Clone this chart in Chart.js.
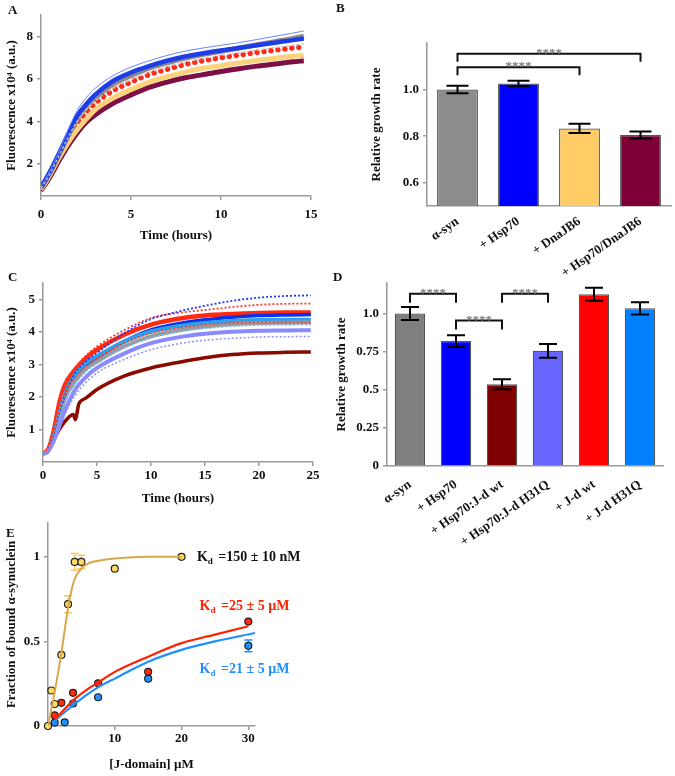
<!DOCTYPE html>
<html>
<head>
<meta charset="utf-8">
<title>alpha-synuclein aggregation with chaperones</title>
<script src="https://cdn.jsdelivr.net/npm/chart.js@4.4.1/dist/chart.umd.min.js"></script>
<style>
  body { margin: 0; background: #fff; }
  #fig { position: relative; width: 675px; height: 776px; overflow: hidden; }
  #fig canvas { position: absolute; }
  .tag { position: absolute; font: bold 13px 'Liberation Serif', serif; color: #111; }
</style>
</head>
<body>
<div id="fig">
  <canvas id="chartB" width="345" height="290" style="left:330px; top:0"></canvas>
  <canvas id="chartA" width="330" height="247" style="left:0; top:0"></canvas>
  <canvas id="chartD" width="345" height="300" style="left:330px; top:270px"></canvas>
  <canvas id="chartC" width="330" height="240" style="left:0; top:270px"></canvas>
  <canvas id="chartE" width="330" height="266" style="left:0; top:510px"></canvas>
  <div class="tag" style="left:8px; top:2px">A</div>
  <div class="tag" style="left:336px; top:0">B</div>
  <div class="tag" style="left:8px; top:269px">C</div>
  <div class="tag" style="left:333px; top:269px">D</div>
  <div class="tag" style="left:6px; top:525px">E</div>
</div>
<script>
/*********************************/
// data      //
/*********************************/

// A - fluorescence x10^4 vs time (hours)
const timeA     = [0, 0.5, 1, 1.5, 2, 2.5, 3, 4, 5, 6, 7, 8, 9, 10, 11, 12, 13, 14, 14.6];
const synA      = [0.85, 1.6, 2.45, 3.3, 4.1, 4.65, 5.1, 5.75, 6.15, 6.5, 6.75, 6.98, 7.15, 7.3, 7.45, 7.6, 7.75, 7.9, 8.0];
const synRepA   = [0.85, 1.55, 2.4, 3.25, 4.0, 4.55, 4.95, 5.55, 5.95, 6.3, 6.55, 6.78, 6.95, 7.1, 7.23, 7.35, 7.47, 7.58, 7.65];
const hsp70A    = [0.9, 1.65, 2.5, 3.4, 4.25, 4.8, 5.25, 5.9, 6.3, 6.6, 6.85, 7.05, 7.2, 7.33, 7.45, 7.58, 7.7, 7.82, 7.9];
const hsp70RepA = [0.95, 1.7, 2.6, 3.6, 4.5, 5.1, 5.55, 6.15, 6.55, 6.85, 7.1, 7.3, 7.45, 7.58, 7.7, 7.85, 8.0, 8.15, 8.25];
const dotsA     = [0.85, 1.55, 2.4, 3.2, 3.9, 4.4, 4.85, 5.45, 5.85, 6.2, 6.45, 6.68, 6.85, 7.0, 7.12, 7.24, 7.35, 7.45, 7.5];
const dnajb6A   = [0.8, 1.5, 2.3, 3.0, 3.6, 4.1, 4.55, 5.1, 5.5, 5.85, 6.1, 6.32, 6.5, 6.62, 6.75, 6.87, 6.97, 7.06, 7.1];
const hspDnajA  = [0.75, 1.4, 2.15, 2.85, 3.45, 3.95, 4.3, 4.85, 5.25, 5.6, 5.85, 6.05, 6.2, 6.35, 6.48, 6.6, 6.7, 6.8, 6.85];

// B - relative growth rate
const groupsB = ['α-syn', '+ Hsp70', '+ DnaJB6', '+ Hsp70/DnaJB6'];
const rateB   = [1.0, 1.026, 0.833, 0.805];
const errB    = [0.016, 0.012, 0.02, 0.015];
const sigB    = [[0, 2, 1.096], [0, 3, 1.154]];

// C - fluorescence x10^4 vs time (hours)
const timeC       = [0, 0.5, 1, 1.5, 2, 3, 4, 5, 7.5, 10, 12.5, 15, 17.5, 20, 22.5, 24.8];
const redC        = [0.25, 0.4, 0.95, 1.8, 2.35, 2.85, 3.2, 3.45, 3.91, 4.22, 4.4, 4.5, 4.55, 4.58, 4.59, 4.59];
const redRepTopC  = [0.25, 0.4, 0.95, 1.8, 2.38, 2.9, 3.28, 3.55, 4.05, 4.42, 4.58, 4.67, 4.76, 4.83, 4.86, 4.87];
const redRepLowC  = [0.25, 0.4, 0.9, 1.65, 2.1, 2.6, 2.95, 3.18, 3.65, 3.96, 4.12, 4.22, 4.27, 4.29, 4.29, 4.29];
const blueRepTopC = [0.25, 0.35, 0.75, 1.4, 2.0, 2.75, 3.1, 3.35, 3.95, 4.39, 4.62, 4.8, 4.95, 5.05, 5.1, 5.12];
const blueC       = [0.25, 0.35, 0.75, 1.4, 1.97, 2.55, 2.95, 3.2, 3.7, 4.06, 4.25, 4.37, 4.45, 4.5, 4.52, 4.53];
const cyanC       = [0.25, 0.35, 0.8, 1.5, 2.07, 2.7, 3.05, 3.25, 3.7, 4.01, 4.17, 4.27, 4.33, 4.36, 4.37, 4.37];
const cyanRepC    = [0.25, 0.35, 0.7, 1.3, 1.85, 2.4, 2.78, 3.02, 3.5, 3.82, 4.0, 4.1, 4.17, 4.2, 4.21, 4.22];
const grayC       = [0.25, 0.35, 0.7, 1.35, 1.92, 2.5, 2.87, 3.09, 3.55, 3.86, 4.04, 4.16, 4.23, 4.27, 4.28, 4.29];
const lilacC      = [0.25, 0.35, 0.65, 1.1, 1.56, 2.23, 2.62, 2.89, 3.33, 3.65, 3.83, 3.94, 4.0, 4.03, 4.04, 4.05];
const lilacRepC   = [0.25, 0.35, 0.6, 1.0, 1.45, 2.05, 2.45, 2.74, 3.15, 3.45, 3.63, 3.74, 3.8, 3.84, 3.85, 3.86];
const timeDarkC   = [0, 0.5, 1, 1.5, 2, 2.5, 2.8, 3.0, 3.1, 3.3, 3.5, 4, 5, 7.5, 10, 12.5, 15, 17.5, 20, 22.5, 24.8];
const darkRedC    = [0.24, 0.39, 0.7, 1.0, 1.23, 1.41, 1.46, 1.3, 1.42, 1.77, 1.87, 1.97, 2.23, 2.64, 2.89, 3.06, 3.2, 3.3, 3.35, 3.37, 3.38];

// D - relative growth rate
const groupsD = ['α-syn', '+ Hsp70', '+ Hsp70:J-d wt', '+ Hsp70:J-d H31Q', '+ J-d wt', '+ J-d H31Q'];
const rateD   = [1.0, 0.82, 0.536, 0.755, 1.126, 1.034];
const errD    = [0.042, 0.038, 0.033, 0.045, 0.043, 0.04];
const sigD    = [[0, 1, 1.129], [1, 2, 0.954], [2, 3, 1.129]];

// E - fraction of bound alpha-synuclein vs [J-domain] uM
const concA   = [0, 0.5, 1, 2, 3, 4, 5, 10, 20];
const boundA  = [0, 0.21, 0.13, 0.42, 0.72, 0.97, 0.97, 0.93, 1.0];
const errA    = [0, 0, 0, 0, 0.05, 0.05, 0.04, 0, 0];
const concWt  = [1, 2, 3.75, 7.5, 15, 30];
const boundWt = [0.063, 0.137, 0.196, 0.252, 0.32, 0.617];
const concMut = [1, 2.5, 3.75, 7.5, 15, 30];
const boundMut = [0.02, 0.022, 0.133, 0.17, 0.28, 0.474];
const errMut  = [0, 0, 0, 0, 0, 0.035];
// fitted curves, traced
const fitAX   = [0, 1, 2, 3, 3.5, 4, 5, 6, 8, 10, 15, 20];
const fitAY   = [0, 0.2, 0.43, 0.7, 0.8, 0.87, 0.93, 0.96, 0.98, 0.99, 1.0, 1.0];
const fitWtX  = [1, 2, 4, 6, 8, 10, 15, 20, 25, 30];
const fitWtY  = [0.04, 0.08, 0.16, 0.22, 0.27, 0.32, 0.41, 0.49, 0.54, 0.59];
const fitMutX = [1, 2, 4, 6, 8, 10, 15, 20, 25, 31];
const fitMutY = [0.03, 0.065, 0.13, 0.19, 0.24, 0.28, 0.38, 0.45, 0.5, 0.55];

/*********************************/
// helpers + plugins             //
/*********************************/

const serif = "'Liberation Serif', 'Times New Roman', serif";
Chart.defaults.font.family = serif;
Chart.defaults.font.size = 13;
Chart.defaults.font.weight = 'bold';
Chart.defaults.color = '#111';
Chart.defaults.animation = false;
Chart.defaults.responsive = false;
Chart.defaults.plugins.legend.display = false;
Chart.defaults.plugins.tooltip.enabled = false;

function pts(xs, ys) {
  return xs.map(function (x, i) { return { x: x, y: ys[i] }; });
}

function line(xs, ys, color, width) {
  return {
    data: pts(xs, ys),
    borderColor: color,
    borderWidth: width,
    pointRadius: 0,
    showLine: true,
    fill: false,
    cubicInterpolationMode: 'monotone'
  };
}

function dotted(ds, dash) {
  ds.borderDash = dash;
  return ds;
}

function linAxis(min, max, ticks, fit, title, pad) {
  return {
    type: 'linear',
    min: min,
    max: max,
    afterBuildTicks: function (s) { s.ticks = ticks.map(function (v) { return { value: v }; }); },
    afterFit: fit,
    border: { color: '#9a9a9a', width: 1.5 },
    grid: { drawOnChartArea: false, tickLength: 4, color: '#9a9a9a', lineWidth: 1.5 },
    ticks: { padding: pad, color: '#111' },
    title: { display: true, text: title, padding: 4, color: '#111' }
  };
}

function catAxis(height, pad) {
  return {
    type: 'category',
    afterFit: function (s) { s.height = height; },
    border: { color: '#9a9a9a', width: 1.5 },
    grid: { drawOnChartArea: false, drawTicks: false },
    ticks: { minRotation: 35, maxRotation: 35, padding: pad, autoSkip: false, color: '#111' }
  };
}

function drawErrors(chart, behind) {
  const ctx = chart.ctx;
  chart.data.datasets.forEach(function (ds, di) {
    if (!ds.errors || !!ds.errorBehind !== behind) return;
    const meta = chart.getDatasetMeta(di);
    const yScale = chart.scales[meta.yAxisID];
    ctx.save();
    ctx.strokeStyle = ds.errorColor || '#000';
    ctx.lineWidth = ds.errorWidth || 2;
    meta.data.forEach(function (el, i) {
      const e = ds.errors[i];
      if (!e) return;
      const raw = ds.data[i];
      const v = typeof raw === 'object' ? raw.y : raw;
      const hi = yScale.getPixelForValue(v + e);
      const lo = yScale.getPixelForValue(v - e);
      const c = ds.errorCap || 8;
      ctx.beginPath();
      ctx.moveTo(el.x, hi); ctx.lineTo(el.x, lo);
      ctx.moveTo(el.x - c, hi); ctx.lineTo(el.x + c, hi);
      ctx.moveTo(el.x - c, lo); ctx.lineTo(el.x + c, lo);
      ctx.stroke();
    });
    ctx.restore();
  });
}

const errorBars = {
  id: 'errorBars',
  beforeDatasetsDraw: function (chart) { drawErrors(chart, true); },
  afterDatasetsDraw: function (chart) { drawErrors(chart, false); }
};

const sigBrackets = {
  id: 'sigBrackets',
  afterDatasetsDraw: function (chart, args, opts) {
    if (!opts.items) return;
    const ctx = chart.ctx, x = chart.scales.x, y = chart.scales.y;
    ctx.save();
    opts.items.forEach(function (b) {
      const x1 = x.getPixelForValue(b[0]), x2 = x.getPixelForValue(b[1]);
      const yy = y.getPixelForValue(b[2]);
      ctx.strokeStyle = '#111';
      ctx.lineWidth = 2;
      ctx.beginPath();
      ctx.moveTo(x1, yy + opts.leg);
      ctx.lineTo(x1, yy);
      ctx.lineTo(x2, yy);
      ctx.lineTo(x2, yy + opts.leg);
      ctx.stroke();
      ctx.fillStyle = '#777';
      ctx.font = 'bold 13px ' + serif;
      ctx.textAlign = 'center';
      ctx.textBaseline = 'alphabetic';
      ctx.fillText('****', (x1 + x2) / 2, yy + 3);
    });
    ctx.restore();
  }
};

const kdLabels = {
  id: 'kdLabels',
  afterDraw: function (chart, args, opts) {
    if (!opts.items) return;
    const ctx = chart.ctx, x = chart.scales.x, y = chart.scales.y;
    ctx.save();
    ctx.textBaseline = 'alphabetic';
    opts.items.forEach(function (it) {
      let px = x.getPixelForValue(it.x);
      const py = y.getPixelForValue(it.y);
      ctx.fillStyle = it.color;
      ctx.font = 'bold 14px ' + serif;
      ctx.fillText('K', px, py);
      px += ctx.measureText('K').width;
      ctx.font = 'bold 9px ' + serif;
      ctx.fillText('d', px, py + 3);
      px += ctx.measureText('d').width + 2;
      ctx.font = 'bold 14px ' + serif;
      ctx.fillText(it.text, px, py);
    });
    ctx.restore();
  }
};

/*********************************/
// A                             //
/*********************************/

var chartA = new Chart(document.getElementById('chartA'), {
  type: 'line',
  data: {
    datasets: [
      line(timeA, hsp70RepA, '#6a84ff', 1),
      dotted(line(timeA, synRepA, '#c4c4c4', 1.3), [3, 2]),
      line(timeA, hsp70A, '#1f3de6', 4.5),
      line(timeA, synA, '#8a8a8a', 5),
      line(timeA, dnajb6A, '#fdd27c', 5),
      line(timeA, hspDnajA, '#7d0f46', 5),
      Object.assign(dotted(line(timeA, dotsA, '#ff2a1a', 5.5), [0.01, 7]), { borderCapStyle: 'round' })
    ]
  },
  options: {
    layout: { padding: { top: 15, right: 19 } },
    scales: {
      x: linAxis(0, 15, [0, 5, 10, 15], function (s) { s.height = 51; }, 'Time (hours)', 7),
      y: linAxis(0.5, 9, [2, 4, 6, 8], function (s) { s.width = 41; }, 'Fluorescence x10⁴ (a.u.)', 4)
    }
  }
});

/*********************************/
// B                             //
/*********************************/

var yB = linAxis(0.5, 1.2, [0.6, 0.8, 1.0], function (s) { s.width = 62; }, 'Relative growth rate', 4);
yB.ticks.callback = function (v) { return v.toFixed(1); };

var chartB = new Chart(document.getElementById('chartB'), {
  type: 'bar',
  data: {
    labels: groupsB,
    datasets: [{
      data: rateB,
      backgroundColor: ['#8c8c8c', '#0000ff', '#ffcc66', '#7f0037'],
      borderColor: '#555555',
      borderWidth: 1.2,
      borderSkipped: 'bottom',
      barPercentage: 0.67,
      categoryPercentage: 1,
      errors: errB,
      errorCap: 11
    }]
  },
  options: {
    layout: { padding: { top: 43, right: 4, left: 35 } },
    plugins: { sigBrackets: { items: sigB, leg: 8 } },
    scales: { x: catAxis(84, 8), y: yB }
  },
  plugins: [errorBars, sigBrackets]
});

/*********************************/
// C                             //
/*********************************/

var chartC = new Chart(document.getElementById('chartC'), {
  type: 'line',
  data: {
    datasets: [
      dotted(line(timeC, lilacRepC, '#8f8fff', 1.5), [2, 2]),
      dotted(line(timeC, cyanRepC, '#6fc0ff', 1.5), [2, 2]),
      dotted(line(timeC, redRepLowC, '#ff3a2a', 1.5), [2, 2]),
      dotted(line(timeC, blueRepTopC, '#1f3cff', 1.8), [2, 2]),
      dotted(line(timeC, redRepTopC, '#ff3a2a', 1.8), [2, 2]),
      line(timeC, lilacC, '#8a8aff', 4),
      line(timeC, grayC, '#9a9a9a', 4),
      line(timeC, cyanC, '#2ea0f0', 4),
      line(timeC, blueC, '#0a30f0', 3.5),
      line(timeC, redC, '#ff2a10', 4.5),
      line(timeDarkC, darkRedC, '#8b0a00', 3.5)
    ]
  },
  options: {
    layout: { padding: { top: 13, right: 17 } },
    scales: {
      x: linAxis(0, 25, [0, 5, 10, 15, 20, 25], function (s) { s.height = 48; }, 'Time (hours)', 2),
      y: linAxis(0, 5.5, [1, 2, 3, 4, 5], function (s) { s.width = 43; }, 'Fluorescence x10⁴ (a.u.)', 4)
    }
  }
});

/*********************************/
// D                             //
/*********************************/

var yD = linAxis(0, 1.2, [0, 0.25, 0.5, 0.75, 1], function (s) { s.width = 57; }, 'Relative growth rate', 4);
yD.ticks.callback = function (v) { return v === 1 ? '1.0' : String(v); };

var chartD = new Chart(document.getElementById('chartD'), {
  type: 'bar',
  data: {
    labels: groupsD,
    datasets: [{
      data: rateD,
      backgroundColor: ['#7f7f7f', '#0000ff', '#7f0000', '#6666ff', '#ff0000', '#0080ff'],
      borderColor: '#555555',
      borderWidth: 1.2,
      borderSkipped: 'bottom',
      barPercentage: 0.66,
      categoryPercentage: 1,
      errors: errD,
      errorCap: 9
    }]
  },
  options: {
    layout: { padding: { top: 13, right: 12 } },
    plugins: { sigBrackets: { items: sigD, leg: 9 } },
    scales: { x: catAxis(104, 11), y: yD }
  },
  plugins: [errorBars, sigBrackets]
});

/*********************************/
// E                             //
/*********************************/

function markers(xs, ys, fill, errs, errColor) {
  return {
    data: pts(xs, ys),
    showLine: false,
    pointRadius: 3.5,
    pointBackgroundColor: fill,
    pointBorderColor: '#222',
    pointBorderWidth: 1.2,
    clip: false,
    errors: errs,
    errorColor: errColor,
    errorWidth: 1.5,
    errorCap: 4,
    errorBehind: true
  };
}

var yE = linAxis(0, 1.2, [0, 0.5, 1], function (s) { s.width = 48; }, 'Fraction of bound α-synuclein', 4);
yE.ticks.callback = function (v) { return String(v); };

var chartE = new Chart(document.getElementById('chartE'), {
  type: 'scatter',
  data: {
    datasets: [
      line(fitAX, fitAY, '#d9a84a', 2),
      line(fitWtX, fitWtY, '#ff2200', 2.2),
      line(fitMutX, fitMutY, '#1f8fff', 2.2),
      markers(concA, boundA, '#ffd966', errA, '#f7c76a'),
      markers(concWt, boundWt, '#ff2a10', null, '#ff2a10'),
      markers(concMut, boundMut, '#1f90ff', errMut, '#1f90ff')
    ]
  },
  options: {
    layout: { padding: { top: 13, right: 75 } },
    plugins: {
      kdLabels: {
        items: [
          { x: 22.3, y: 0.976, color: '#111', text: ' =150 ± 10 nM' },
          { x: 22.7, y: 0.685, color: '#ff2200', text: ' =25 ± 5 µM' },
          { x: 22.7, y: 0.315, color: '#1f8fff', text: ' =21 ± 5 µM' }
        ]
      }
    },
    scales: {
      x: linAxis(0, 31, [10, 20, 30], function (s) { s.height = 50; }, '[J-domain] µM', 1),
      y: yE
    }
  },
  plugins: [errorBars, kdLabels]
});
</script>
</body>
</html>
